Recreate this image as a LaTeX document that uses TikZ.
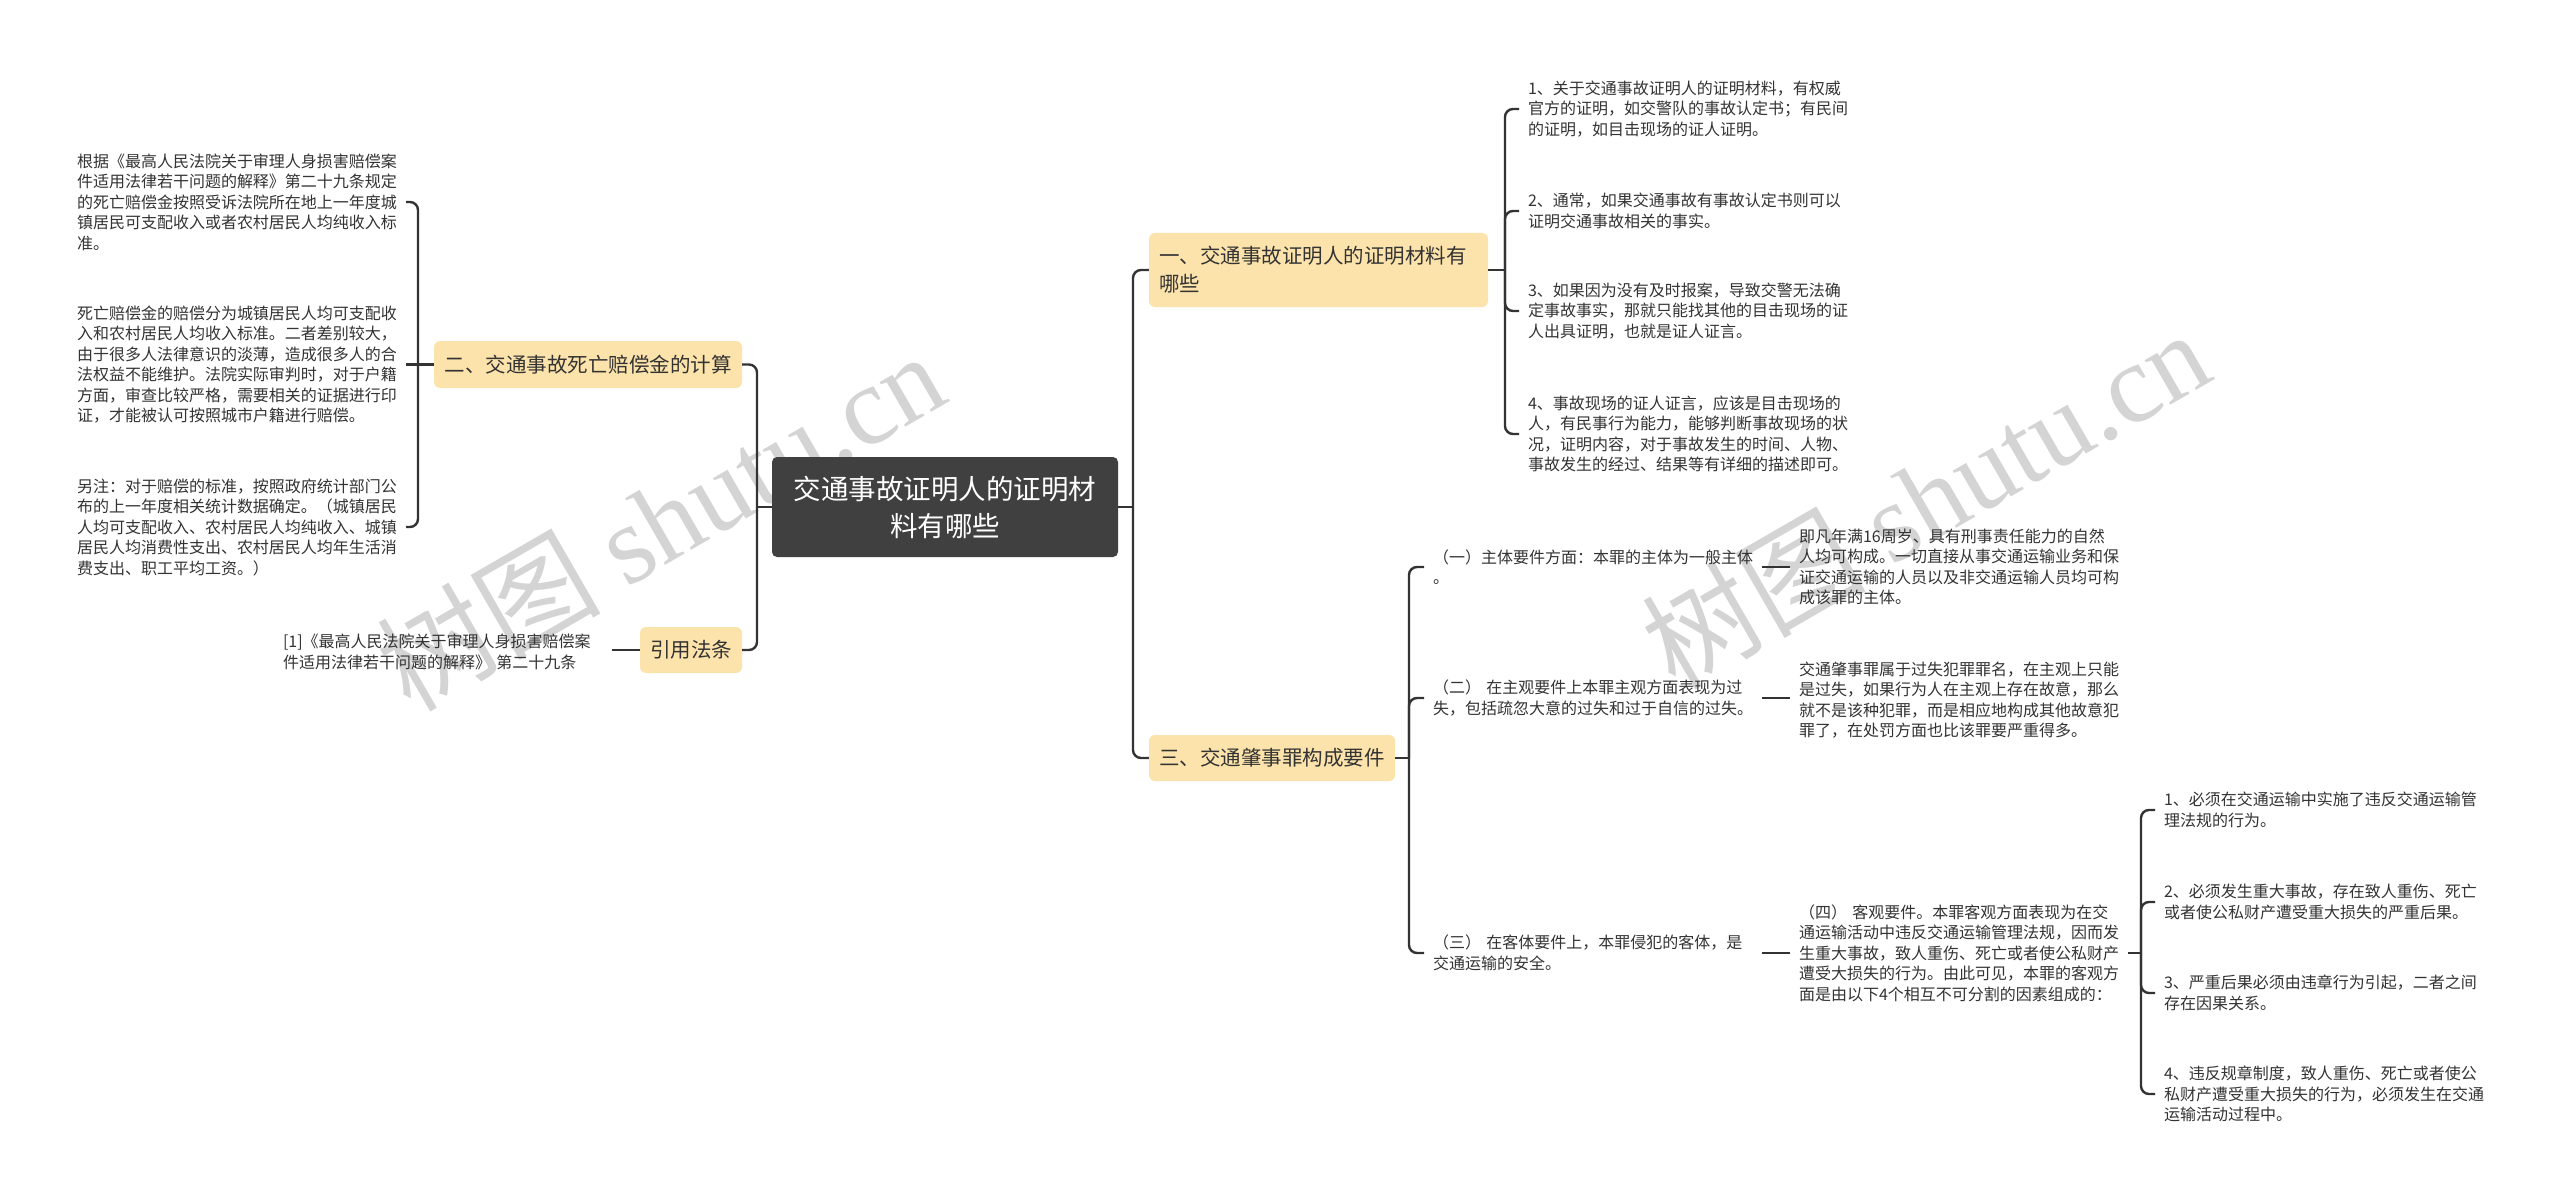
\documentclass[tikz,border=0pt]{standalone}
\usepackage{fontspec}
\setmainfont{Noto Sans CJK SC}
\newfontfamily\wmfont{Liberation Serif}
\definecolor{rootfill}{HTML}{404040}
\definecolor{brfill}{HTML}{FCE3AB}
\definecolor{lnc}{HTML}{333333}
\definecolor{txt}{HTML}{333333}
\begin{document}
\begin{tikzpicture}[x=1pt,y=-1pt,
  rootbox/.style={fill=rootfill, rounded corners=5pt, text=white, font=\fontsize{27.5}{37}\selectfont, align=center, minimum width=346pt, minimum height=100pt, inner sep=0pt},
  brbox/.style={fill=brfill, rounded corners=6pt, text=txt, font=\fontsize{20.5}{28}\selectfont, inner sep=0pt},
  leaf/.style={text=txt, font=\fontsize{16}{20.5}\selectfont, align=left, text width=320pt, inner xsep=0pt, inner ysep=2pt, outer xsep=9pt, anchor=west},
  conn/.style={draw=lnc, line width=2.4pt, rounded corners=8pt},
  wm/.style={text=black!17, font=\fontsize{112}{112}\selectfont, rotate=30}]
\fill[white] (0,0) rectangle (2560,1201);
\useasboundingbox (0,0) rectangle (2560,1201);
% watermarks
\node[wm] (wm1) at (660,520) {树图 {\wmfont shutu.cn}};
\node[wm] (wm2) at (1925,498) {树图 {\wmfont shutu.cn}};
% root and branches
\node[rootbox] (root) at (945,507) {交通事故证明人的证明材\\料有哪些};
\node[brbox, minimum width=339pt, minimum height=74pt, align=left, text width=319pt, inner xsep=10pt] (b1) at (1318.5,270) {一、交通事故证明人的证明材料有\\哪些};
\node[brbox, minimum width=308pt, minimum height=47pt] (b2) at (588,364.5) {二、交通事故死亡赔偿金的计算};
\node[brbox, minimum width=102pt, minimum height=46pt] (blaw) at (691,650) {引用法条};
\node[brbox, minimum width=246pt, minimum height=46pt] (b3) at (1272,758) {三、交通肇事罪构成要件};
% left leaves
\node[leaf] (l1) at (68,202) {根据《最高人民法院关于审理人身损害赔偿案\\件适用法律若干问题的解释》第二十九条规定\\的死亡赔偿金按照受诉法院所在地上一年度城\\镇居民可支配收入或者农村居民人均纯收入标\\准。};
\node[leaf] (l2) at (68,364.5) {死亡赔偿金的赔偿分为城镇居民人均可支配收\\入和农村居民人均收入标准。二者差别较大，\\由于很多人法律意识的淡薄，造成很多人的合\\法权益不能维护。法院实际审判时，对于户籍\\方面，审查比较严格，需要相关的证据进行印\\证，才能被认可按照城市户籍进行赔偿。};
\node[leaf] (l3) at (68,527) {另注：对于赔偿的标准，按照政府统计部门公\\布的上一年度相关统计数据确定。（城镇居民\\人均可支配收入、农村居民人均纯收入、城镇\\居民人均消费性支出、农村居民人均年生活消\\费支出、职工平均工资。）};
\node[leaf] (law1) at (274,652) {[1]《最高人民法院关于审理人身损害赔偿案\\件适用法律若干问题的解释》 第二十九条};
% right leaves of b1
\node[leaf] (r1) at (1519,109) {1、关于交通事故证明人的证明材料，有权威\\官方的证明，如交警队的事故认定书；有民间\\的证明，如目击现场的证人证明。};
\node[leaf] (r2) at (1519,211) {2、通常，如果交通事故有事故认定书则可以\\证明交通事故相关的事实。};
\node[leaf] (r3) at (1519,311) {3、如果因为没有及时报案，导致交警无法确\\定事故事实，那就只能找其他的目击现场的证\\人出具证明，也就是证人证言。};
\node[leaf] (r4) at (1519,434) {4、事故现场的证人证言，应该是目击现场的\\人，有民事行为能力，能够判断事故现场的状\\况，证明内容，对于事故发生的时间、人物、\\事故发生的经过、结果等有详细的描述即可。};
% items of b3
\node[leaf] (i1) at (1424,567) {（一）主体要件方面：本罪的主体为一般主体\\。};
\node[leaf] (i2) at (1424,698) {（二） 在主观要件上本罪主观方面表现为过\\失，包括疏忽大意的过失和过于自信的过失。};
\node[leaf] (i3) at (1424,953) {（三） 在客体要件上，本罪侵犯的客体，是\\交通运输的安全。};
\node[leaf] (s1) at (1790,567) {即凡年满16周岁、具有刑事责任能力的自然\\人均可构成。一切直接从事交通运输业务和保\\证交通运输的人员以及非交通运输人员均可构\\成该罪的主体。};
\node[leaf] (s2) at (1790,700) {交通肇事罪属于过失犯罪罪名，在主观上只能\\是过失，如果行为人在主观上存在故意，那么\\就不是该种犯罪，而是相应地构成其他故意犯\\罪了，在处罚方面也比该罪要严重得多。};
\node[leaf] (s3) at (1790,953) {（四） 客观要件。本罪客观方面表现为在交\\通运输活动中违反交通运输管理法规，因而发\\生重大事故，致人重伤、死亡或者使公私财产\\遭受大损失的行为。由此可见，本罪的客观方\\面是由以下4个相互不可分割的因素组成的：};
\node[leaf] (t1) at (2155,810) {1、必须在交通运输中实施了违反交通运输管\\理法规的行为。};
\node[leaf] (t2) at (2155,902) {2、必须发生重大事故，存在致人重伤、死亡\\或者使公私财产遭受重大损失的严重后果。};
\node[leaf] (t3) at (2155,993) {3、严重后果必须由违章行为引起，二者之间\\存在因果关系。};
\node[leaf] (t4) at (2155,1094) {4、违反规章制度，致人重伤、死亡或者使公\\私财产遭受重大损失的行为，必须发生在交通\\运输活动过程中。};
% junctions
\coordinate (jl) at (757,507);
\coordinate (jr) at (1133,507);
\coordinate (jb2) at (418,364.5);
\coordinate (jb1) at (1505,270);
\coordinate (jb3) at (1409,758);
\coordinate (js3) at (2141,953);
% connectors
\draw[conn] (root.west) -- (jl);
\draw[conn] (jl) |- (b2.east);
\draw[conn] (jl) |- (blaw.east);
\draw[conn] (root.east) -- (jr);
\draw[conn] (jr) |- (b1.west);
\draw[conn] (jr) |- (b3.west);
\draw[conn] (b2.west) -- (jb2);
\draw[conn] (jb2) |- (l1.east);
\draw[conn] (jb2) -- (l2.east);
\draw[conn] (jb2) |- (l3.east);
\draw[conn] (blaw.west) -- (blaw.west -| law1.east);
\draw[conn] (b1.east) -- (jb1);
\draw[conn] (jb1) |- (r1.west);
\draw[conn] (jb1) |- (r2.west);
\draw[conn] (jb1) |- (r3.west);
\draw[conn] (jb1) |- (r4.west);
\draw[conn] (b3.east) -- (jb3);
\draw[conn] (jb3) |- (i1.west);
\draw[conn] (jb3) |- (i2.west);
\draw[conn] (jb3) |- (i3.west);
\draw[conn] (i1.east) -- (i1.east -| s1.west);
\draw[conn] (i2.east) -- (i2.east -| s2.west);
\draw[conn] (i3.east) -- (s3.west);
\draw[conn] (s3.east) -- (js3);
\draw[conn] (js3) |- (t1.west);
\draw[conn] (js3) |- (t2.west);
\draw[conn] (js3) |- (t3.west);
\draw[conn] (js3) |- (t4.west);
\end{tikzpicture}
\end{document}
